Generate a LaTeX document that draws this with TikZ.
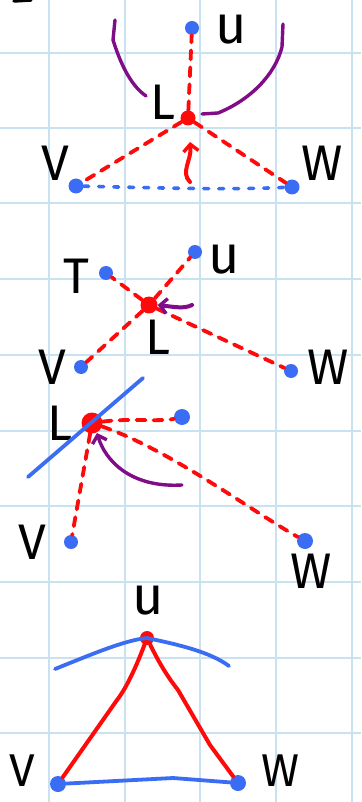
\documentclass[tikz,border=0pt]{standalone}
\usepackage{fontspec}
\setmainfont{Fira Sans}
\usetikzlibrary{arrows.meta}
\definecolor{gridc}{HTML}{C9E2F2}
\definecolor{dotblue}{HTML}{3A6CF4}
\definecolor{penred}{HTML}{FF0A0A}
\definecolor{penpurple}{HTML}{800C88}
\tikzset{
  bdot/.style={circle, fill=dotblue, minimum size=14pt, inner sep=0pt},
  rdot/.style={circle, fill=penred, minimum size=15pt, inner sep=0pt},
  lbl/.style={text=black, font=\fontsize{50}{50}\selectfont, inner sep=0pt},
  lblsm/.style={text=black, font=\fontsize{46}{46}\selectfont, inner sep=0pt},
  ulbl/.style={text=black, font=\fontsize{54}{54}\selectfont, inner sep=0pt},
  rdash/.style={penred, line width=3.8pt, line cap=round, dash pattern=on 9pt off 8pt},
  bdash/.style={dotblue, line width=3.6pt, line cap=round, dash pattern=on 5pt off 10pt},
  rsolid/.style={penred, line width=4pt, line cap=round, line join=round},
  bsolid/.style={dotblue, line width=3.8pt, line cap=round, line join=round},
  pcurve/.style={penpurple, line width=3.4pt, line cap=round, line join=round},
  barb/.style={-{Straight Barb[length=7pt, width=15pt, line width=3.4pt]}},
}
\begin{document}
\begin{tikzpicture}[x=1pt, y=-1pt]
\useasboundingbox (0,0) rectangle (361,802);
\fill[white] (0,0) rectangle (361,802);
% grid
\foreach \gx in {49,125,200,276,352}
  \draw[gridc, line width=2.2pt] (\gx,0) -- (\gx,802);
\foreach \gy in {53,128,203,279,355,431,506,582,658,733}
  \draw[gridc, line width=2.2pt] (0,\gy) -- (361,\gy);
% fragment at top-left
\draw[black, line width=3.5pt, line cap=round] (14,1) -- (31,0);

% ---------- Panel 1 ----------
\node[bdot] (u1) at (192,28) {};
\node[rdot] (l1) at (188,118) {};
\node[bdot, minimum size=15pt] (v1) at (76,186) {};
\node[bdot, minimum size=15pt] (w1) at (292,187) {};
\node[ulbl] (u1t) at (231,30) {u};
\node[lbl] (l1t) at (163,102) {L};
\node[lbl] (v1t) at (55,163) {V};
\node[lbl] (w1t) at (322,163) {W};
\draw[rdash] (l1) -- (u1);
\draw[rdash] (l1) -- (v1);
\draw[rdash] (l1) -- (w1);
\draw[bdash] (v1) .. controls (160,188) and (230,190) .. (w1);
\coordinate (a1s) at (190,182);
\coordinate (a1e) at (190,142);
\draw[rsolid, barb] (a1s) .. controls (180,172) and (192,160) .. (a1e);
\draw[pcurve] (115,20) -- (113,40) .. controls (120,62) and (130,85) .. (146,96);
\draw[pcurve] (283,24) -- (282,47) .. controls (275,75) and (250,100) .. (218,113) -- (202,114);

% ---------- Panel 2 ----------
\node[bdot] (t2) at (106,273) {};
\node[bdot] (u2) at (195,252) {};
\node[rdot, minimum size=17pt] (l2) at (149,305) {};
\node[bdot] (v2) at (81,367) {};
\node[bdot] (w2) at (291,371) {};
\node[lbl] (t2t) at (76,276) {T};
\node[ulbl] (u2t) at (224,260) {u};
\node[lbl] (l2t) at (158,337) {L};
\node[lbl] (v2t) at (52,367) {V};
\node[lbl] (w2t) at (328,367) {W};
\draw[rdash] (l2) -- (t2);
\draw[rdash] (l2) -- (u2);
\draw[rdash] (l2) -- (v2);
\draw[rdash] (l2) -- (w2);
\coordinate (p2s) at (192,305);
\draw[pcurve, line width=4pt, barb] (p2s) .. controls (184,309) and (175,307) .. (l2.east);

% ---------- Panel 3 ----------
\node[rdot, minimum size=21pt] (l3) at (92,423) {};
\node[bdot, minimum size=16pt] (u3) at (182,417) {};
\node[bdot] (v3) at (71,542) {};
\node[bdot, minimum size=16pt] (w3) at (305,541) {};
\node[lbl] (l3t) at (60,423) {L};
\node[lbl] (v3t) at (32,542) {V};
\node[lbl] (w3t) at (311,571) {W};
\coordinate (b3a) at (28,477);
\coordinate (b3b) at (143,378);
\draw[bsolid] (b3a) -- (b3b);
\draw[rdash] (l3) .. controls (130,418) and (160,422) .. (u3);
\draw[rdash] (l3) -- (v3);
\draw[rdash] (l3) .. controls (170,450) and (250,510) .. (w3);
\coordinate (p3s) at (182,485);
\draw[pcurve, barb] (p3s) .. controls (130,488) and (105,460) .. (97,433);

% ---------- Panel 4 ----------
\node[rdot, minimum size=14pt] (u4) at (147,638) {};
\node[bdot, minimum size=16pt] (v4) at (58,784) {};
\node[bdot, minimum size=16pt] (w4) at (238,783) {};
\node[ulbl] (u4t) at (148,601) {u};
\node[lblsm] (v4t) at (22,771) {V};
\node[lblsm] (w4t) at (280,771) {W};
\draw[rsolid] (u4) .. controls (135,670) and (125,690) .. (117,700) -- (v4);
\draw[rsolid] (u4) .. controls (160,665) and (170,680) .. (178,690) -- (210,745) -- (w4);
\draw[bsolid] (v4) -- (173,778) -- (w4);
\coordinate (b4a) at (55,669);
\coordinate (b4b) at (229,666);
\draw[bsolid] (b4a) .. controls (90,655) and (125,640) .. (u4.center) .. controls (180,645) and (210,652) .. (b4b);
\end{tikzpicture}
\end{document}
